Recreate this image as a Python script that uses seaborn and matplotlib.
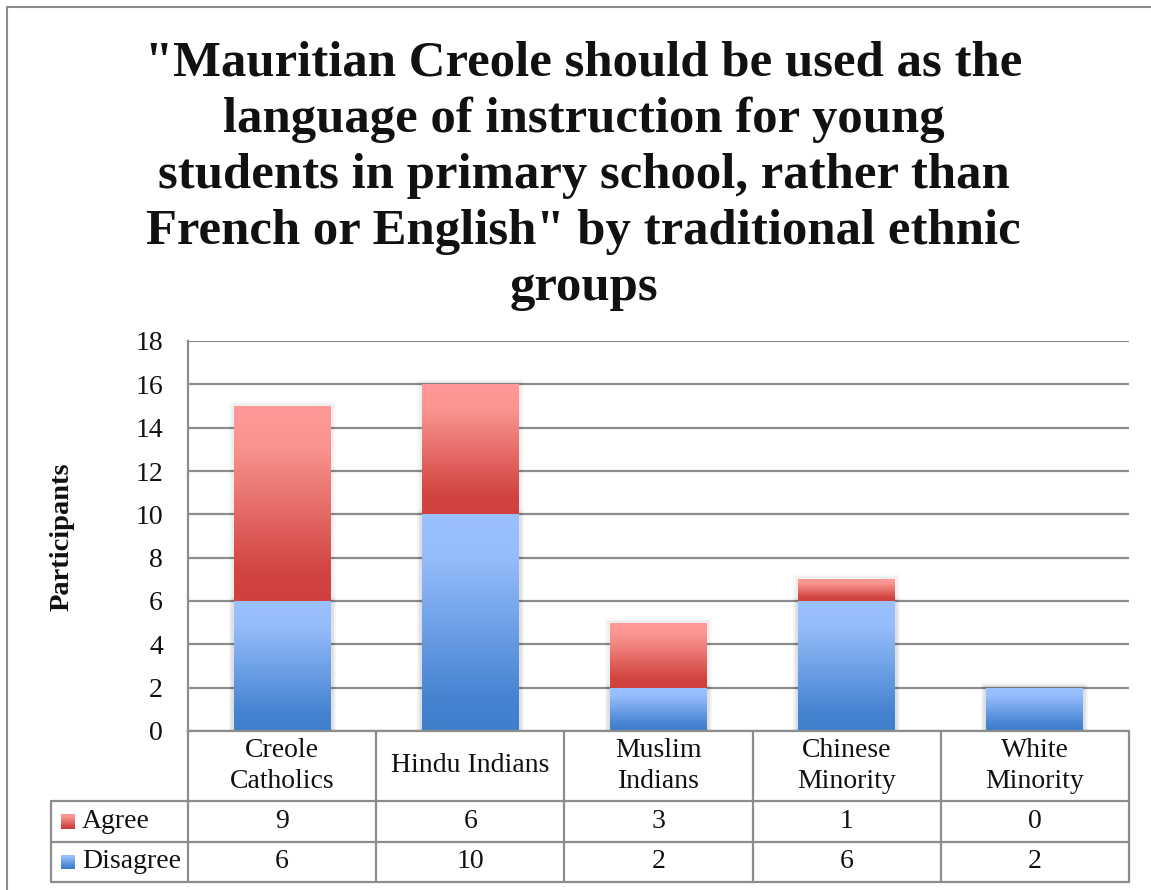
import numpy as np
import pandas as pd
import matplotlib
matplotlib.use("Agg")
import matplotlib.pyplot as plt
import seaborn as sns
from matplotlib.lines import Line2D
from matplotlib.colors import LinearSegmentedColormap
import matplotlib.patheffects as pe

# ---- data ----
categories = ["Creole\nCatholics", "Hindu Indians", "Muslim\nIndians",
              "Chinese\nMinority", "White\nMinority"]
agree = [9, 6, 3, 1, 0]
disagree = [6, 10, 2, 6, 2]
series = ["Agree", "Disagree"]
y_ticks = [0, 2, 4, 6, 8, 10, 12, 14, 16, 18]
title = ('"Mauritian Creole should be used as the\n'
         'language of instruction for young\n'
         'students in primary school, rather than\n'
         'French or English" by traditional ethnic\n'
         'groups')
y_label = "Participants"

# ---- style ----
sns.set_theme(style="white")
plt.rcParams["font.family"] = ["Liberation Serif", "DejaVu Serif"]
GRID = "#8C8C8C"
FS = 20

red_stops = [(0.0, "#FF9A99"), (0.2, "#F9948F"), (0.85, "#D2443F"), (1.0, "#D0413D")]
blue_stops = [(0.0, "#9AC0FF"), (0.2, "#95BCFB"), (0.85, "#4583D1"), (1.0, "#3E7FCC")]


def ramp(stops, n=256):
    cmap = LinearSegmentedColormap.from_list("ramp", stops)
    return cmap(np.linspace(0, 1, n))[:, None, :]


red_grad = ramp(red_stops)
blue_grad = ramp(blue_stops)

W, H = 1151, 890
fig = plt.figure(figsize=(W / 100, H / 100), dpi=100)
fig.patch.set_facecolor("white")
ax = fig.add_axes([188 / W, 1 - 731 / H, (1129 - 188) / W, (731 - 341) / H])

df = pd.DataFrame({"group": categories, "Agree": agree, "Disagree": disagree})
df["Total"] = df["Agree"] + df["Disagree"]
n = len(categories)

# stacked columns: totals (agree on top) then disagree in front
sns.barplot(data=df, x="group", y="Total", color="#D0413D", width=0.515,
            errorbar=None, ax=ax, zorder=1)
sns.barplot(data=df, x="group", y="Disagree", color="#3E7FCC", width=0.515,
            errorbar=None, ax=ax, zorder=1)

# soft drop shadow around each column
shadow = [pe.Stroke(linewidth=7, foreground="#000000", alpha=0.025),
          pe.Stroke(linewidth=4, foreground="#000000", alpha=0.04),
          pe.Normal()]
patches = list(ax.patches)
tot_patches = patches[:n]
dis_patches = patches[n:2 * n]
for i in range(n):
    for p, grad, lo, hi in ((tot_patches[i], red_grad, df["Disagree"][i], df["Total"][i]),
                            (dis_patches[i], blue_grad, 0, df["Disagree"][i])):
        p.set_facecolor("none")
        p.set_edgecolor("none")
        p.set_path_effects(shadow)
        if hi > lo:
            x0 = p.get_x()
            im = ax.imshow(grad, extent=(x0, x0 + p.get_width(), lo, hi),
                           aspect="auto", origin="upper", zorder=2,
                           interpolation="bilinear")
            im.set_clip_path(p)

ax.set_xlim(-0.5, n - 0.5)
ax.set_ylim(0, 18)
ax.set_xlabel("")
ax.set_ylabel("")

# axes frame and grid
ax.yaxis.grid(True, color=GRID, lw=1.6)
ax.xaxis.grid(False)
ax.set_axisbelow(True)
for s in ("top", "right"):
    ax.spines[s].set_visible(False)
for s in ("left", "bottom"):
    ax.spines[s].set_color(GRID)
    ax.spines[s].set_linewidth(1.6)

ax.set_yticks(y_ticks)
ax.set_yticklabels([str(t) for t in y_ticks])
ax.tick_params(axis="y", length=0, pad=18, labelsize=FS, labelcolor="#111111")
ax.set_xticks(range(n))
ax.set_xticklabels(categories)
ax.tick_params(axis="x", length=0, pad=25, labelsize=FS, labelcolor="#111111")
for lbl in ax.get_xticklabels():
    lbl.set_verticalalignment("center")
    lbl.set_linespacing(1.3)

# ---- data table under the axis ----
ph = 731 - 341  # axes height in px


def ay(py):
    return (731 - py) / ph


xt = ax.get_xaxis_transform()
row_lines = [801, 842, 882]
tab_left = (51 - 188) / (1129 - 188)
for py in row_lines:
    ax.add_line(Line2D([tab_left, 1], [ay(py), ay(py)], transform=ax.transAxes,
                       color=GRID, lw=1.6, clip_on=False))
for k in range(n + 1):
    ax.add_line(Line2D([k - 0.5, k - 0.5], [0, ay(882)], transform=xt,
                       color=GRID, lw=1.6, clip_on=False))
ax.add_line(Line2D([tab_left, tab_left], [ay(801), ay(882)], transform=ax.transAxes,
                   color=GRID, lw=1.6, clip_on=False))

row_centers = {"Agree": 821.5, "Disagree": 862}
row_vals = {"Agree": agree, "Disagree": disagree}
row_grads = {"Agree": red_grad, "Disagree": blue_grad}
for name in series:
    yc = row_centers[name]
    for i, v in enumerate(row_vals[name]):
        ax.text(i, ay(yc), str(v), transform=xt, ha="center", va="center",
                fontsize=FS, color="#111111", clip_on=False)
    kax = fig.add_axes([61 / W, 1 - (yc + 7.5) / H, 14 / W, 15 / H])
    kax.imshow(row_grads[name], aspect="auto", interpolation="bilinear")
    kax.set_axis_off()
    fig.text(82 / W, 1 - yc / H, name, ha="left", va="center", fontsize=FS,
             color="#111111")

# ---- title and axis label ----
fig.text(0.507, 1 - 40 / H, title, ha="center", va="top", fontsize=36.5,
         fontweight="bold", color="#111111", linespacing=1.29)
fig.text(62 / W, 1 - 537 / H, y_label, rotation=90, ha="center", va="center",
         fontsize=20.5, fontweight="bold", color="#111111")

# chart frame
fig.add_artist(Line2D([7 / W, 7 / W], [0, 1 - 7 / H], transform=fig.transFigure,
                      color=GRID, lw=1.5))
fig.add_artist(Line2D([7 / W, 1], [1 - 7 / H, 1 - 7 / H], transform=fig.transFigure,
                      color=GRID, lw=1.5))

fig.savefig("out.png", dpi=100, facecolor="white")
